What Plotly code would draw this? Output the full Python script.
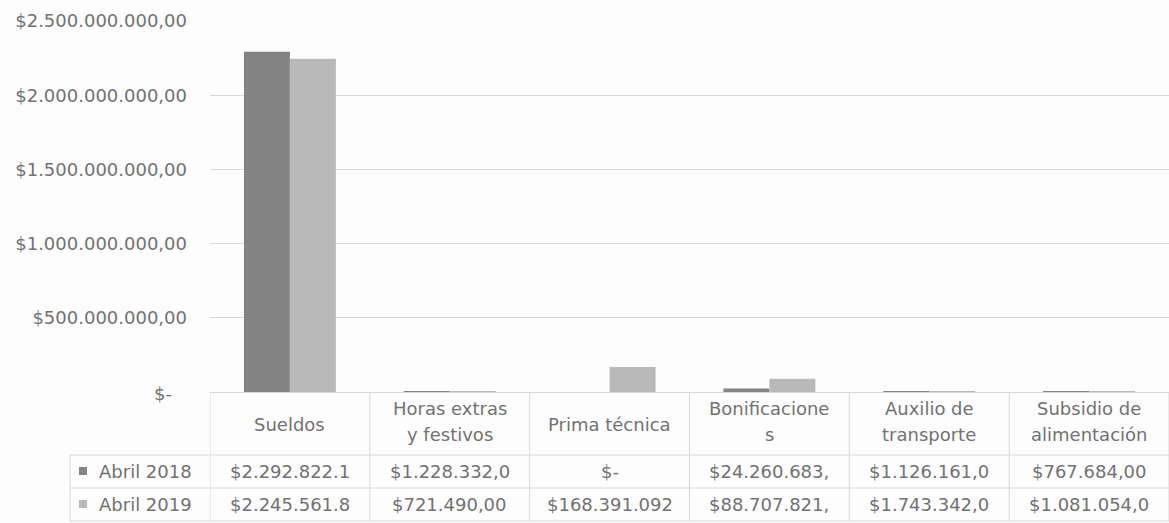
import plotly.graph_objects as go

# Payroll concepts (columns of the data table)
categorias = ["Sueldos", "Horas extras y festivos", "Prima técnica",
              "Bonificaciones", "Auxilio de transporte", "Subsidio de alimentación"]
# Header text as wrapped inside each table column
encabezados = [["Sueldos"], ["Horas extras", "y festivos"], ["Prima técnica"],
               ["Bonificacione", "s"], ["Auxilio de", "transporte"],
               ["Subsidio de", "alimentación"]]

series = ["Abril 2018", "Abril 2019"]
abril_2018 = [2292822100, 1228332, 0, 24260683, 1126161, 767684]
abril_2019 = [2245561800, 721490, 168391092, 88707821, 1743342, 1081054]
colores = ["#848484", "#b9b9b9"]

ticks_y = [0, 500000000, 1000000000, 1500000000, 2000000000, 2500000000]

W, H = 1169, 523
ML, MR, MT, MB = 210, 0, 21, 131
PW, PH = W - ML - MR, H - MT - MB
TXT = "#727272"
LINEA = "#d8d8d8"
FUENTE = "DejaVu Sans"
TAM = 18


def pesos(v, ancho=None):
    """Accounting-style currency text: $1.234.567,00 ; zero as $-"""
    if v == 0:
        return "$-"
    s = f"{v:,.2f}".replace(",", "X").replace(".", ",").replace("X", ".")
    s = "$" + s
    if ancho is not None:
        s = s[:ancho]
    return s


def px_x(px):
    return (px - ML) / PW


def px_y(py):
    return (H - MB - py) / PH


fig = go.Figure()
for nombre, vals, col in zip(series, [abril_2018, abril_2019], colores):
    fig.add_trace(go.Bar(x=list(range(len(categorias))), y=vals, name=nombre,
                         marker=dict(color=col, line=dict(width=0)),
                         showlegend=False, hoverinfo="skip"))

shapes = []
annotations = []

# zero label of the value axis
annotations.append(dict(x=px_x(174), y=px_y(393), xref="paper", yref="paper",
                        text="$-", showarrow=False, xanchor="right", yanchor="middle",
                        font=dict(family=FUENTE, size=TAM, color=TXT)))

# data table under the plot
y_top, y_head, y_r1, y_bot = 393, 455, 488, 521
n = len(categorias)
for yy in (y_head, y_r1, y_bot):
    shapes.append(dict(type="line", xref="paper", yref="paper",
                       x0=px_x(70), x1=1, y0=px_y(yy), y1=px_y(yy),
                       line=dict(color=LINEA, width=1)))
shapes.append(dict(type="line", xref="paper", yref="paper",
                   x0=px_x(70), x1=px_x(70), y0=px_y(y_head), y1=px_y(y_bot),
                   line=dict(color=LINEA, width=1)))
for i in range(n + 1):
    shapes.append(dict(type="line", xref="x", yref="paper",
                       x0=i - 0.5, x1=i - 0.5, y0=px_y(y_top), y1=px_y(y_bot),
                       line=dict(color=LINEA, width=1)))

# column headers
for i, lineas in enumerate(encabezados):
    ys = [424] if len(lineas) == 1 else [408, 435]
    for t, yy in zip(lineas, ys):
        annotations.append(dict(x=i, y=px_y(yy), xref="x", yref="paper", text=t,
                                showarrow=False, xanchor="center", yanchor="middle",
                                font=dict(family=FUENTE, size=TAM, color=TXT)))

# series rows: legend key, name and values
for fila, (nombre, vals, col) in enumerate(zip(series, [abril_2018, abril_2019], colores)):
    yc = [471, 504][fila]
    shapes.append(dict(type="rect", xref="paper", yref="paper",
                       x0=px_x(79), x1=px_x(87), y0=px_y(yc - 4), y1=px_y(yc + 4),
                       fillcolor=col, line=dict(width=0)))
    annotations.append(dict(x=px_x(97), y=px_y(yc), xref="paper", yref="paper",
                            text=nombre, showarrow=False, xanchor="left", yanchor="middle",
                            font=dict(family=FUENTE, size=TAM, color=TXT)))
    for i, v in enumerate(vals):
        annotations.append(dict(x=i, y=px_y(yc), xref="x", yref="paper",
                                text=pesos(v, 12), showarrow=False,
                                xanchor="center", yanchor="middle",
                                font=dict(family=FUENTE, size=TAM, color=TXT)))

fig.update_layout(
    width=W, height=H,
    margin=dict(l=ML, r=MR, t=MT, b=MB, pad=0),
    paper_bgcolor="#fdfdfd", plot_bgcolor="#fdfdfd",
    barmode="group", bargap=0.425, bargroupgap=0,
    shapes=shapes, annotations=annotations,
    xaxis=dict(range=[-0.5, n - 0.5], showticklabels=False, showgrid=False,
               zeroline=False, showline=False, ticks=""),
    yaxis=dict(range=[0, 2500000000], tickvals=ticks_y,
               ticktext=["" if v == 0 else pesos(v) for v in ticks_y],
               showgrid=True, gridcolor=LINEA, gridwidth=1,
               zeroline=True, zerolinecolor=LINEA, zerolinewidth=1,
               showline=False, ticks="", ticklabelstandoff=22,
               tickfont=dict(family=FUENTE, size=TAM, color=TXT)),
)

fig.write_html("out.html")
